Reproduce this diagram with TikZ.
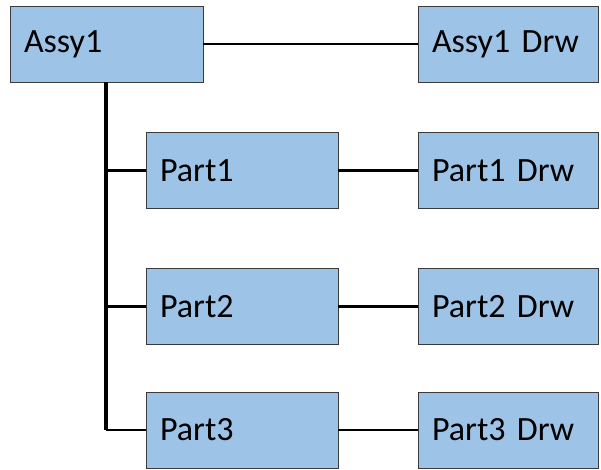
\documentclass[tikz,border=0pt]{standalone}
\usepackage{fontspec}
\setmainfont{Carlito}
\definecolor{boxblue}{HTML}{9DC3E6}
\definecolor{boxline}{HTML}{3A3A3A}
\newcommand{\boxfont}{\fontsize{34}{40}\selectfont\setlength{\spaceskip}{5.5pt}}

\begin{document}
\begin{tikzpicture}[x=1pt,y=-1pt,
  box/.style={draw=boxline, line width=0.9pt, fill=boxblue, minimum height=76pt,
    inner xsep=14pt, align=left, font=\boxfont},
  partbox/.style={box, text width=164pt},
  drwbox/.style={box, text width=152pt},
  link/.style={black, line width=2.6pt}]
\useasboundingbox (0,0) rectangle (601,470);
% Boxes
\node[box, text width=165pt] (assy) at (106.5,44) {Assy1};
\node[drwbox] (assydrw) at (508,44) {Assy1 Drw};
\node[partbox] (part1) at (242,170.5) {Part1};
\node[drwbox] (part1drw) at (508,170.5) {Part1 Drw};
\node[partbox] (part2) at (242,306.5) {Part2};
\node[drwbox] (part2drw) at (508,306.5) {Part2 Drw};
\node[partbox] (part3) at (242,430) {Part3};
\node[drwbox] (part3drw) at (508,430) {Part3 Drw};
% Lines
\coordinate (corner) at (106,430);
\draw[black, line width=3.3pt] (assy.south -| corner) -- (corner);
\draw[link] (part1.west -| corner) -- (part1.west);
\draw[link] (part2.west -| corner) -- (part2.west);
\draw[link] (corner) -- (part3.west);
\draw[link] (assy.east) -- (assydrw.west);
\draw[link] (part1.east) -- (part1drw.west);
\draw[link] (part2.east) -- (part2drw.west);
\draw[link] (part3.east) -- (part3drw.west);
\end{tikzpicture}
\end{document}
